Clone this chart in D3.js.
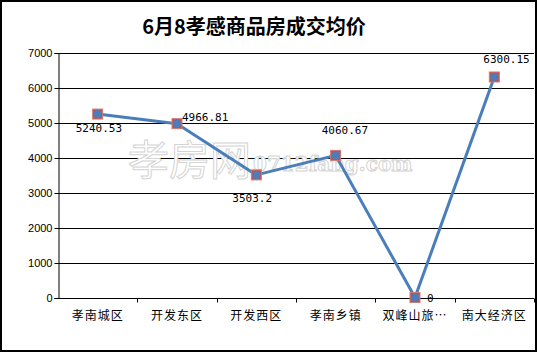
<!DOCTYPE html>
<html>
<head>
<meta charset="utf-8">
<script src="https://cdn.jsdelivr.net/npm/d3@7"></script>
<style>
  body { margin: 0; background: #fff; }
  svg { display: block; }
</style>
</head>
<body>
<div id="chart"></div>
<script>
// data
const categories = ["孝南城区", "开发东区", "开发西区", "孝南乡镇", "双峰山旅…", "南大经济区"]
const prices = [5240.53, 4966.81, 3503.2, 4060.67, 0, 6300.15]
const priceLabels = ["5240.53", "4966.81", "3503.2", "4060.67", "0", "6300.15"]
const yTicks = [0, 1000, 2000, 3000, 4000, 5000, 6000, 7000]
const TITLE = "6月8孝感商品房成交均价"

const WIDTH = 538, HEIGHT = 353
const PLOT = {LEFT: 58, RIGHT: 534, TOP: 52.5, BOTTOM: 297.5}

const svg = d3.select("#chart").append("svg")
  .attr("width", WIDTH).attr("height", HEIGHT)

// outer frame
svg.append("rect")
  .attr("x", 1).attr("y", 1)
  .attr("width", WIDTH - 3).attr("height", HEIGHT - 3)
  .attr("fill", "#fff").attr("stroke", "#000").attr("stroke-width", 2)

svg.append("text")
  .attr("x", 254).attr("y", 34)
  .attr("text-anchor", "middle")
  .attr("font-family", "'Noto Sans CJK SC', sans-serif")
  .attr("font-weight", "bold")
  .attr("font-size", 20)
  .attr("fill", "#000")
  .text(TITLE)

let x = d3.scaleBand()
  .domain(categories)
  .range([PLOT.LEFT, PLOT.RIGHT])

let y = d3.scaleLinear()
  .domain([0, 7000])
  .range([PLOT.BOTTOM, PLOT.TOP])

// gridlines
svg.append("g")
  .selectAll("line")
  .data(yTicks.filter(t => t > 0))
  .enter()
  .append("line")
    .attr("x1", PLOT.LEFT).attr("x2", PLOT.RIGHT)
    .attr("y1", d => Math.round(y(d)) + 0.5)
    .attr("y2", d => Math.round(y(d)) + 0.5)
    .attr("stroke", "#000")

// watermark
let wm = svg.append("g")
  .attr("fill", "#fff").attr("stroke", "#d4d4d4").attr("stroke-width", 1)
wm.append("text")
  .attr("x", 128).attr("y", 175)
  .attr("font-family", "'Noto Sans CJK SC', sans-serif")
  .attr("font-size", 41)
  .text("孝房网")
wm.append("text")
  .attr("x", 253).attr("y", 171)
  .attr("font-family", "'DejaVu Serif', serif")
  .attr("font-size", 20).attr("font-weight", "bold")
  .text("0712fang.com")

// y axis
let yAxis = d3.axisLeft(y)
  .tickValues(yTicks)
  .tickSize(4)
  .tickFormat(d3.format("d"))
let yG = svg.append("g")
  .attr("transform", "translate(" + (PLOT.LEFT + 0.5) + ",0.5)")
  .call(yAxis)
yG.select(".domain").attr("stroke", "#000")
yG.selectAll(".tick line").attr("stroke", "#000")
yG.selectAll("text")
  .attr("font-family", "'Liberation Sans', Arial, sans-serif")
  .attr("font-size", 11)
  .attr("fill", "#000")
  .attr("x", -6)

// x axis: ticks sit between categories
let xG = svg.append("g")
  .attr("transform", "translate(0," + (Math.round(PLOT.BOTTOM) + 0.5) + ")")
xG.append("line")
  .attr("x1", PLOT.LEFT).attr("x2", PLOT.RIGHT)
  .attr("stroke", "#000")
xG.selectAll("line.tick")
  .data(categories)
  .enter()
  .append("line")
    .attr("class", "tick")
    .attr("x1", d => Math.round(x(d) + x.bandwidth()) + 0.5)
    .attr("x2", d => Math.round(x(d) + x.bandwidth()) + 0.5)
    .attr("y1", 0).attr("y2", 4)
    .attr("stroke", "#000")
xG.selectAll("text")
  .data(categories)
  .enter()
  .append("text")
    .attr("x", d => x(d) + x.bandwidth() / 2)
    .attr("y", 21)
    .attr("text-anchor", "middle")
    .attr("font-family", "'Noto Sans CJK SC', sans-serif")
    .attr("font-size", 12)
    .attr("letter-spacing", 1)
    .attr("fill", "#000")
    .text(d => d)

const cx = (d, i) => x(categories[i]) + x.bandwidth() / 2

// line
let line = d3.line()
  .x((d, i) => cx(d, i))
  .y(d => y(d))
svg.append("path")
  .datum(prices)
  .attr("d", line)
  .attr("fill", "none")
  .attr("stroke", "#4A7EBB")
  .attr("stroke-width", 3)
  .attr("stroke-linejoin", "round")

// markers: red square under blue dot
svg.append("g").selectAll("rect")
  .data(prices)
  .enter()
  .append("rect")
    .attr("x", (d, i) => cx(d, i) - 5)
    .attr("y", d => y(d) - 5)
    .attr("width", 10).attr("height", 10)
    .attr("fill", "#C0504D")
    .attr("stroke", "#D07A77").attr("stroke-width", 1)
svg.append("g").selectAll("circle")
  .data(prices)
  .enter()
  .append("circle")
    .attr("cx", (d, i) => cx(d, i))
    .attr("cy", d => y(d))
    .attr("r", 4)
    .attr("fill", "#4A7EBB")

// data labels, placed the way the original chart had them
const labelOffsets = [[-22, 18], [5, -3], [-24, 27], [-14, -21], [12, 4], [-11, -14]]
svg.append("g").selectAll("text")
  .data(prices)
  .enter()
  .append("text")
    .attr("x", (d, i) => cx(d, i) + labelOffsets[i][0])
    .attr("y", (d, i) => y(d) + labelOffsets[i][1])
    .attr("font-family", "'DejaVu Sans Mono', monospace")
    .attr("font-size", 11)
    .attr("fill", "#000")
    .text((d, i) => priceLabels[i])
</script>
</body>
</html>
